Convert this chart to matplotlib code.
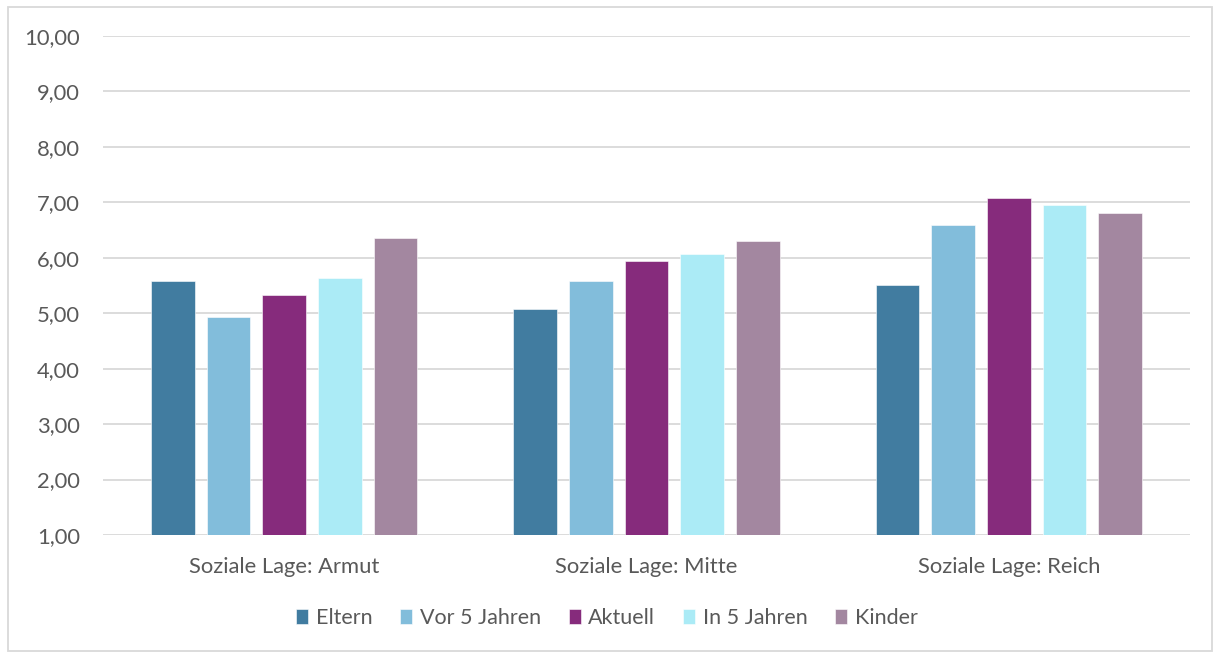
import numpy as np
import matplotlib
matplotlib.use("Agg")
import matplotlib.pyplot as plt
from matplotlib.patches import Rectangle

# Data
categories = ["Soziale Lage: Armut", "Soziale Lage: Mitte", "Soziale Lage: Reich"]
series = ["Eltern", "Vor 5 Jahren", "Aktuell", "In 5 Jahren", "Kinder"]
eltern = [5.59, 5.08, 5.51]
vor_5_jahren = [4.93, 5.59, 6.60]
aktuell = [5.33, 5.95, 7.07]
in_5_jahren = [5.63, 6.07, 6.96]
kinder = [6.35, 6.31, 6.81]
colors = ["#417CA0", "#82BDDB", "#862B7C", "#ABEBF6", "#A387A0"]

plt.rcParams['font.family'] = ['Lato', 'DejaVu Sans']
text_color = "#595959"
grid_color = "#D9D9D9"

fig = plt.figure(figsize=(12.14, 6.53), dpi=100)
ax = fig.add_axes([103 / 1214, 1 - 535 / 653, (1190 - 103) / 1214, (535 - 36) / 653])

values = [eltern, vor_5_jahren, aktuell, in_5_jahren, kinder]
x = np.arange(len(categories))
step = 0.1537
width = 0.121
for i, (name, vals) in enumerate(zip(series, values)):
    ax.bar(x + (i - 2) * step, np.array(vals) - 1, width, bottom=1,
           color=colors[i], edgecolor="white", linewidth=0.4, label=name, zorder=3)

ax.set_xlim(-0.5, 2.5)
ax.set_ylim(1, 10)
ax.set_yticks(np.arange(1, 11))
ax.set_yticklabels([f"{v:.2f}".replace(".", ",") for v in np.arange(1, 11)])
ax.set_xticks(x)
ax.set_xticklabels(categories)
ax.grid(axis="y", color=grid_color, linewidth=1.3, zorder=0)
for s in ax.spines.values():
    s.set_visible(False)
ax.tick_params(axis="both", length=0, colors=text_color, labelsize=15.8)
ax.tick_params(axis="y", pad=16.5)
ax.tick_params(axis="x", pad=16)

leg = fig.legend(loc="center", bbox_to_anchor=(0.5, 1 - 618 / 653), ncol=5,
                 frameon=False, fontsize=15.5, handlelength=0.55, handleheight=0.7,
                 handletextpad=0.35, columnspacing=1.3, labelcolor=text_color)

fig.patches.append(Rectangle((8 / 1214, 1 - 651 / 653), 1204 / 1214, 644 / 653,
                             transform=fig.transFigure, fill=False,
                             edgecolor=grid_color, linewidth=1.3))

fig.savefig("out.png", dpi=100)
